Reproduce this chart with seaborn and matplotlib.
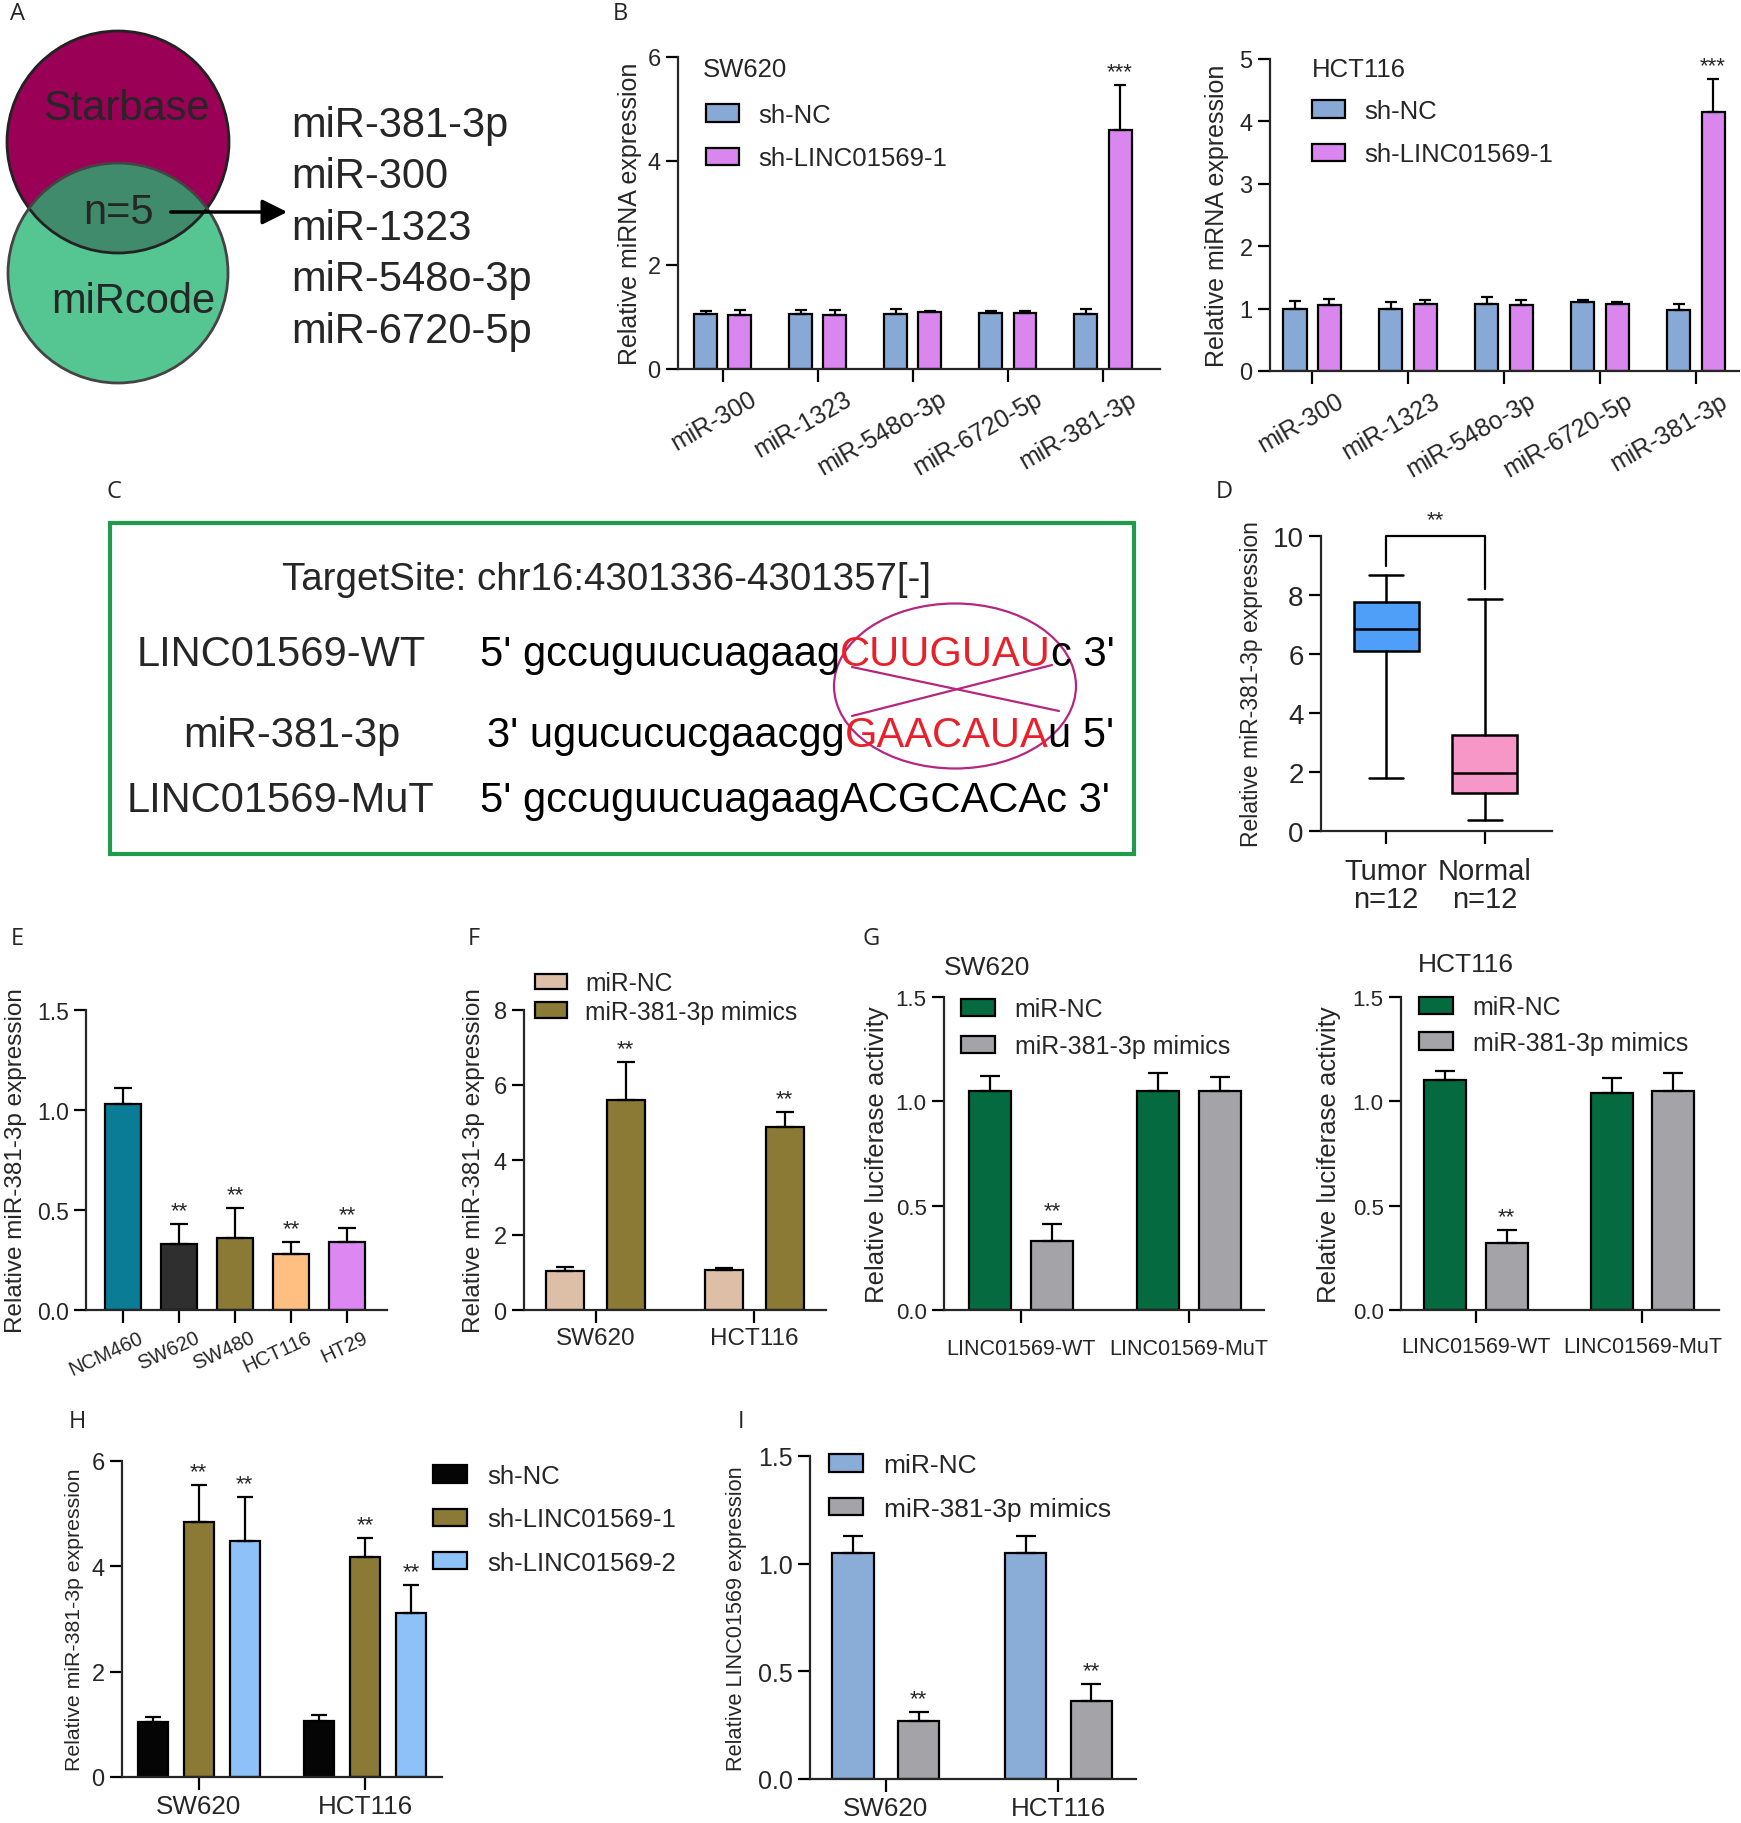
import numpy as np
import pandas as pd
import matplotlib
matplotlib.use('Agg')
import matplotlib.pyplot as plt
import matplotlib.transforms as mtrans
import seaborn as sns
from matplotlib.patches import Patch, Circle, Ellipse, Rectangle

# ---- data ----
venn_hits = ['miR-381-3p', 'miR-300', 'miR-1323', 'miR-548o-3p', 'miR-6720-5p']

mirnas_b = ['miR-300', 'miR-1323', 'miR-548o-3p', 'miR-6720-5p', 'miR-381-3p']
groups_b = ['sh-NC', 'sh-LINC01569-1']
sw620_b_nc = [1.05, 1.05, 1.06, 1.07, 1.06]
sw620_b_nc_err = [0.06, 0.08, 0.09, 0.04, 0.10]
sw620_b_sh = [1.03, 1.04, 1.09, 1.08, 4.60]
sw620_b_sh_err = [0.10, 0.09, 0.02, 0.03, 0.87]
hct_b_nc = [0.99, 0.99, 1.07, 1.10, 0.98]
hct_b_nc_err = [0.13, 0.11, 0.11, 0.03, 0.09]
hct_b_sh = [1.05, 1.08, 1.06, 1.07, 4.15]
hct_b_sh_err = [0.10, 0.05, 0.08, 0.04, 0.53]

box_groups = ['Tumor\nn=12', 'Normal\nn=12']
box_whislo = [1.78, 0.37]
box_q1 = [6.10, 1.30]
box_med = [6.85, 1.98]
box_q3 = [7.75, 3.27]
box_whishi = [8.68, 7.85]

cells_e = ['NCM460', 'SW620', 'SW480', 'HCT116', 'HT29']
vals_e = [1.03, 0.33, 0.36, 0.28, 0.34]
errs_e = [0.08, 0.10, 0.15, 0.06, 0.07]

cells = ['SW620', 'HCT116']
groups_mim = ['miR-NC', 'miR-381-3p mimics']
f_nc = [1.04, 1.08]
f_nc_err = [0.11, 0.05]
f_mim = [5.60, 4.89]
f_mim_err = [1.02, 0.40]

constructs = ['LINC01569-WT', 'LINC01569-MuT']
g_sw_nc = [1.05, 1.05]
g_sw_nc_err = [0.07, 0.085]
g_sw_mim = [0.33, 1.05]
g_sw_mim_err = [0.08, 0.065]
g_hct_nc = [1.10, 1.04]
g_hct_nc_err = [0.045, 0.07]
g_hct_mim = [0.32, 1.05]
g_hct_mim_err = [0.065, 0.085]

groups_h = ['sh-NC', 'sh-LINC01569-1', 'sh-LINC01569-2']
h_nc = [1.04, 1.06]
h_nc_err = [0.10, 0.11]
h_sh1 = [4.85, 4.18]
h_sh1_err = [0.69, 0.36]
h_sh2 = [4.48, 3.12]
h_sh2_err = [0.84, 0.53]

i_nc = [1.05, 1.05]
i_nc_err = [0.08, 0.08]
i_mim = [0.27, 0.36]
i_mim_err = [0.04, 0.08]

# ---- style ----
sns.set_style('ticks')
plt.rcParams['font.family'] = ['Liberation Sans', 'DejaVu Sans']
plt.rcParams['axes.linewidth'] = 1.6

W, H = 1741, 1824
fig = plt.figure(figsize=(W / 100, H / 100), dpi=100)


def px_axes(l, t, r, b):
    return fig.add_axes([l / W, 1 - b / H, (r - l) / W, (b - t) / H])


def ftext(x, y, s, **kw):
    return fig.text(x / W, 1 - y / H, s, **kw)


def style_axes(ax, yfs, xfs):
    sns.despine(ax=ax)
    ax.tick_params(length=9, width=1.6, color='black', direction='out')
    ax.tick_params(axis='y', labelsize=yfs)
    ax.tick_params(axis='x', labelsize=xfs)


def slant_labels(ax, angle, dx):
    # rotated labels hang off their tick, shifted dx pixels to the right
    off = mtrans.ScaledTranslation(dx / 100, 0, fig.dpi_scale_trans)
    for lab in ax.get_xticklabels():
        lab.set_rotation(angle)
        lab.set_ha('right')
        lab.set_va('top')
        lab.set_rotation_mode('anchor')
        lab.set_transform(lab.get_transform() + off)


def ylabel_px(ax, text, fs, xr):
    pos = ax.get_position()
    ax.set_ylabel(text, fontsize=fs)
    ax.yaxis.set_label_coords((xr / W - pos.x0) / pos.width, 0.5)


def add_legend(ax, labels, colors, x, y, fs, ls, hl=1.3, hh=0.65, pad=0.75):
    handles = [Patch(facecolor=c, edgecolor='black', linewidth=1.6) for c in colors]
    ax.legend(handles, labels, loc='upper left', bbox_to_anchor=(x / W, 1 - y / H),
              bbox_transform=fig.transFigure, frameon=False, fontsize=fs,
              labelspacing=ls, handlelength=hl, handleheight=hh, handletextpad=pad,
              borderpad=0, borderaxespad=0)


def bar_panel(box, cats, groups, vals, errs, colors, width, gap, xlim, ylim, yticks,
              capsize, stars, yfs=17, xfs=17, star_fs=16):
    ax = px_axes(*box)
    if groups is None:
        df = pd.DataFrame({'cat': cats, 'val': vals})
        sns.barplot(data=df, x='cat', y='val', hue='cat', order=cats, hue_order=cats,
                    palette=dict(zip(cats, colors)), width=width, saturation=1,
                    edgecolor='black', linewidth=1.6, errorbar=None, legend=False, ax=ax)
        flat_v, flat_e = list(vals), list(errs)
    else:
        df = pd.DataFrame({'cat': cats * len(groups),
                           'grp': np.repeat(groups, len(cats)),
                           'val': np.concatenate(vals)})
        sns.barplot(data=df, x='cat', y='val', hue='grp', order=cats, hue_order=groups,
                    palette=dict(zip(groups, colors)), width=width, gap=gap, saturation=1,
                    edgecolor='black', linewidth=1.6, errorbar=None, legend=False, ax=ax)
        flat_v = list(np.concatenate(vals))
        flat_e = list(np.concatenate(errs))
    for p, v, e, s in zip(ax.patches, flat_v, flat_e, stars):
        xc = p.get_x() + p.get_width() / 2
        ax.errorbar(xc, v, yerr=[[0], [e]], fmt='none', ecolor='black', elinewidth=1.6,
                    capsize=capsize, capthick=1.6, zorder=3)
        if s:
            ax.annotate(s, xy=(xc, v + e), xytext=(0, 2), textcoords='offset points',
                        ha='center', va='bottom', fontsize=star_fs)
    ax.set_xlim(*xlim)
    ax.set_ylim(*ylim)
    ax.set_yticks(yticks)
    ax.set_xlabel('')
    ax.set_ylabel('')
    style_axes(ax, yfs, xfs)
    return ax


nc_blue = '#88A9D5'
violet = '#D986EE'
olive = '#8A7A35'
gray = '#A4A4A8'

# ---- A: Venn ----
axA = px_axes(0, 0, 600, 420)
axA.set_xlim(0, 600)
axA.set_ylim(420, 0)
axA.axis('off')
top_c = Circle((118, 143), 111, facecolor='#9B0057', edgecolor='none')
bot_c = Circle((118, 274), 110, facecolor='#55C592', edgecolor='none')
axA.add_patch(top_c)
axA.add_patch(bot_c)
ov = Circle((118, 274), 110, facecolor='#3F8B6B', edgecolor='none')
axA.add_patch(ov)
ov.set_clip_path(top_c)
axA.add_patch(Circle((118, 143), 111, facecolor='none', edgecolor='#222222', lw=2))
axA.add_patch(Circle((118, 274), 110, facecolor='none', edgecolor='#444444', lw=2))
axA.text(126, 109, 'Starbase', fontsize=30, ha='center', va='center')
axA.text(119, 213, 'n=5', fontsize=30, ha='center', va='center')
axA.text(133, 302, 'miRcode', fontsize=30, ha='center', va='center')
axA.annotate('', xy=(290, 213), xytext=(168, 213),
             arrowprops=dict(arrowstyle='-|>', lw=2.5, color='black', mutation_scale=38))
for k, name in enumerate(venn_hits):
    axA.text(291, 137 + 51.5 * k, name, fontsize=30, ha='left', va='baseline')

# ---- B ----
stars_b = [''] * 9 + ['***']
axB1 = bar_panel((678, 58, 1160, 370), mirnas_b, groups_b, [sw620_b_nc, sw620_b_sh],
                 [sw620_b_nc_err, sw620_b_sh_err], [nc_blue, violet], 0.72, 0.33,
                 (-0.47, 4.6), (0, 6), [0, 2, 4, 6], 4.5, stars_b, yfs=17, xfs=18)
slant_labels(axB1, 30, 26)
ylabel_px(axB1, 'Relative miRNA expression', 18, 642)
add_legend(axB1, groups_b, [nc_blue, violet], 706, 104, 18.5, 0.75)
ftext(703, 70, 'SW620', fontsize=18.5, ha='left', va='center')

axB2 = bar_panel((1270, 60, 1739, 372), mirnas_b, groups_b, [hct_b_nc, hct_b_sh],
                 [hct_b_nc_err, hct_b_sh_err], [nc_blue, violet], 0.72, 0.33,
                 (-0.44, 4.45), (0, 5), [0, 1, 2, 3, 4, 5], 4.5, stars_b, yfs=17, xfs=18)
slant_labels(axB2, 30, 24)
ylabel_px(axB2, 'Relative miRNA expression', 18, 1229)
add_legend(axB2, groups_b, [nc_blue, violet], 1312, 100, 18.5, 0.75)
ftext(1312, 70, 'HCT116', fontsize=18.5, ha='left', va='center')

# ---- C: target site ----
axC = px_axes(100, 515, 1145, 865)
axC.set_xlim(100, 1145)
axC.set_ylim(865, 515)
axC.axis('off')
axC.add_patch(Rectangle((110, 524), 1024, 331, facecolor='none', edgecolor='#1F9B4B', lw=3))
axC.text(607, 590, 'TargetSite: chr16:4301336-4301357[-]', fontsize=27.7, ha='center', va='baseline')
row_names = ['LINC01569-WT', 'miR-381-3p', 'LINC01569-MuT']
row_base = [666, 747, 812]
row_center = [281, 292, 280]
row_seq = [[("5' gccuguucuagaag", 'black'), ('CUUGUAU', '#E8202A'), ("c 3'", 'black')],
           [("3' ugucucucgaacgg", 'black'), ('GAACAUA', '#E8202A'), ("u 5'", 'black')],
           [("5' gccuguucuagaagACGCACAc 3'", 'black')]]
row_x = [480, 487, 480]
for name, yb, xc, parts, x0 in zip(row_names, row_base, row_center, row_seq, row_x):
    axC.text(xc, yb, name, fontsize=30, ha='center', va='baseline')
    prev = axC.text(x0, yb, parts[0][0], color=parts[0][1], fontsize=30, ha='left', va='baseline')
    for s, c in parts[1:]:
        prev = axC.annotate(s, xy=(1, yb), xycoords=(prev, 'data'), color=c, fontsize=30,
                            ha='left', va='baseline')
axC.add_patch(Ellipse((955, 687), 242, 165, facecolor='none', edgecolor='#B5267E', lw=1.6))
axC.plot([852, 1059], [668, 712], color='#B5267E', lw=1.6)
axC.plot([852, 1052], [717, 666], color='#B5267E', lw=1.6)

# ---- D: box plot ----
axD = px_axes(1321, 537, 1552, 832)
stats = [dict(med=m, q1=a, q3=b, whislo=lo, whishi=hi, fliers=[], label=g)
         for g, lo, a, m, b, hi in zip(box_groups, box_whislo, box_q1, box_med, box_q3, box_whishi)]
bp = axD.bxp(stats, positions=[0, 1], widths=0.66, patch_artist=True, showfliers=False,
             capwidths=0.35,
             boxprops=dict(edgecolor='black', linewidth=1.8),
             medianprops=dict(color='black', linewidth=1.8),
             whiskerprops=dict(color='black', linewidth=1.8),
             capprops=dict(color='black', linewidth=1.8))
for patch, c in zip(bp['boxes'], ['#4F9EF7', '#F797C8']):
    patch.set_facecolor(c)
axD.set_xlim(-0.66, 1.68)
axD.set_ylim(0, 10)
axD.set_yticks([0, 2, 4, 6, 8, 10])
axD.set_xticks([0, 1])
axD.set_xticklabels(box_groups, linespacing=1.0)
style_axes(axD, 20, 21)
axD.tick_params(axis='x', pad=10)
ylabel_px(axD, 'Relative miR-381-3p expression', 16.5, 1263)
bracket_y = [9.0, 10.0, 10.0, 8.2]
axD.plot([0, 0, 1, 1], bracket_y, color='black', lw=1.6, clip_on=False)
axD.text(0.5, 10.2, '**', ha='center', va='bottom', fontsize=16)

# ---- E ----
stars_e = ['', '**', '**', '**', '**']
axE = bar_panel((86, 1011, 387, 1311), cells_e, None, vals_e, errs_e,
                ['#0B7C96', '#2F2F2F', olive, '#FFBF80', '#DD88F2'], 0.64, 0,
                (-0.66, 4.71), (0, 1.5), [0.0, 0.5, 1.0, 1.5], 6.5, stars_e, yfs=16.5, xfs=14.5)
axE.set_yticklabels(['0.0', '0.5', '1.0', '1.5'])
slant_labels(axE, 25, 15)
ylabel_px(axE, 'Relative miR-381-3p expression', 17.5, 27)

# ---- F ----
stars_f = ['', '', '**', '**']
axF = bar_panel((524, 1011, 826, 1311), cells, groups_mim, [f_nc, f_mim], [f_nc_err, f_mim_err],
                ['#DDBFA8', olive], 0.76, 0.37, (-0.45, 1.45), (0, 8), [0, 2, 4, 6, 8],
                6.5, stars_f, yfs=17, xfs=17.5)
ylabel_px(axF, 'Relative miR-381-3p expression', 17.5, 485)
add_legend(axF, groups_mim, ['#DDBFA8', olive], 535, 972, 17.7, 0.2, hl=1.3, hh=0.6)

# ---- G ----
stars_g = ['', '', '**', '']
g_cols = ['#056A3F', gray]
axG1 = bar_panel((944, 998, 1264, 1311), constructs, groups_mim, [g_sw_nc, g_sw_mim],
                 [g_sw_nc_err, g_sw_mim_err], g_cols, 0.74, 0.32, (-0.46, 1.45), (0, 1.5),
                 [0.0, 0.5, 1.0, 1.5], 7, stars_g, yfs=16, xfs=15.5)
axG1.set_yticklabels(['0.0', '0.5', '1.0', '1.5'])
axG1.tick_params(axis='x', pad=11)
ylabel_px(axG1, 'Relative luciferase activity', 18.5, 889)
add_legend(axG1, groups_mim, g_cols, 961, 998, 18, 0.53, hl=1.35, hh=0.7, pad=0.8)
ftext(987, 968, 'SW620', fontsize=19, ha='center', va='center')

axG2 = bar_panel((1401, 998, 1719, 1311), constructs, groups_mim, [g_hct_nc, g_hct_mim],
                 [g_hct_nc_err, g_hct_mim_err], g_cols, 0.74, 0.32, (-0.45, 1.46), (0, 1.5),
                 [0.0, 0.5, 1.0, 1.5], 7, stars_g, yfs=16, xfs=15.5)
axG2.set_yticklabels(['0.0', '0.5', '1.0', '1.5'])
axG2.tick_params(axis='x', pad=10)
ylabel_px(axG2, 'Relative luciferase activity', 18.5, 1341)
add_legend(axG2, groups_mim, g_cols, 1419, 996, 18, 0.46, hl=1.35, hh=0.7, pad=0.8)
ftext(1466, 965, 'HCT116', fontsize=19, ha='center', va='center')

# ---- H ----
stars_h = ['', '', '**', '**', '**', '**']
h_cols = ['#050505', olive, '#8DC1F7']
axH = bar_panel((122, 1462, 442, 1778), cells, groups_h, [h_nc, h_sh1, h_sh2],
                [h_nc_err, h_sh1_err, h_sh2_err], h_cols, 0.83, 0.35, (-0.46, 1.46), (0, 6),
                [0, 2, 4, 6], 6, stars_h, yfs=17, xfs=18.7)
ylabel_px(axH, 'Relative miR-381-3p expression', 15.3, 84)
add_legend(axH, groups_h, h_cols, 433, 1465, 18.5, 0.75, hl=1.32, hh=0.66, pad=0.8)

# ---- I ----
stars_i = ['', '', '**', '**']
i_cols = ['#8AADD8', gray]
axI = bar_panel((810, 1457, 1136, 1780), cells, groups_mim, [i_nc, i_mim], [i_nc_err, i_mim_err],
                i_cols, 0.76, 0.37, (-0.44, 1.45), (0, 1.5), [0.0, 0.5, 1.0, 1.5],
                7.5, stars_i, yfs=18, xfs=18.7)
axI.set_yticklabels(['0.0', '0.5', '1.0', '1.5'])
ylabel_px(axI, 'Relative LINC01569 expression', 15.7, 747)
add_legend(axI, groups_mim, i_cols, 829, 1454, 19, 0.75, hl=1.3, hh=0.65, pad=0.77)

# ---- panel letters ----
letters = ['A', 'B', 'C', 'D', 'E', 'F', 'G', 'H', 'I']
letter_xy = [(17, 14), (620, 14), (114, 492), (1224, 492), (17, 939), (474, 939),
             (871, 939), (77, 1422), (741, 1422)]
for s, (x, y) in zip(letters, letter_xy):
    ftext(x, y, s, fontsize=17, ha='center', va='center', family=['Open Sans', 'DejaVu Sans'])

fig.savefig('out.png', dpi=100)
